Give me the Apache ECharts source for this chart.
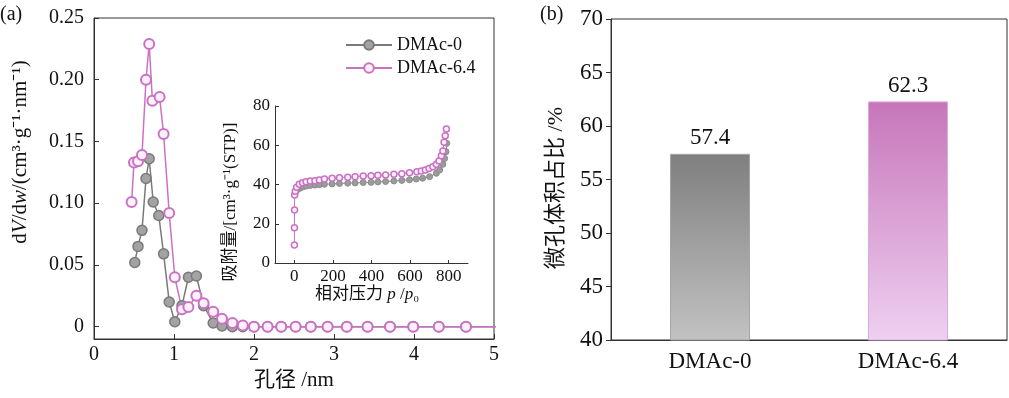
<!DOCTYPE html>
<html>
<head>
<meta charset="utf-8">
<script src="https://cdn.jsdelivr.net/npm/echarts@6/dist/echarts.min.js"></script>
<style>
    html, body { margin: 0; padding: 0; background: #fff; }
    #chart { width: 1009px; height: 398px; }
</style>
</head>
<body>
<div id="chart"></div>
<script>
    // 孔径分布 (a)
    var poreX0 = [0.51, 0.55, 0.60, 0.65, 0.69, 0.74, 0.81, 0.87, 0.94, 1.01, 1.10, 1.18, 1.28, 1.37, 1.49, 1.60, 1.73, 1.86, 2.00, 2.17, 2.34, 2.52, 2.71, 2.92, 3.16, 3.42, 3.70, 3.99, 4.31, 4.65, 5.02];
    var poreY0 = [0.052, 0.065, 0.078, 0.120, 0.136, 0.101, 0.090, 0.059, 0.020, 0.004, 0.017, 0.040, 0.041, 0.017, 0.003, 0.0005, 0, 0, 0, 0, 0, 0, 0, 0, 0, 0, 0, 0, 0, 0, 0];
    var poreX64 = [0.47, 0.50, 0.55, 0.60, 0.65, 0.69, 0.73, 0.82, 0.87, 0.94, 1.01, 1.10, 1.18, 1.28, 1.37, 1.49, 1.60, 1.73, 1.86, 2.00, 2.17, 2.34, 2.52, 2.71, 2.92, 3.16, 3.42, 3.70, 3.99, 4.31, 4.65, 5.02];
    var poreY64 = [0.101, 0.133, 0.134, 0.139, 0.200, 0.229, 0.183, 0.186, 0.156, 0.092, 0.040, 0.014, 0.016, 0.025, 0.019, 0.012, 0.0065, 0.003, 0.001, 0, 0, 0, 0, 0, 0, 0, 0, 0, 0, 0, 0, 0];

    // 吸附等温线 (插图)
    var isoX0 = [2, 8, 18, 30, 45, 62, 83, 107, 130, 156, 196, 234, 277, 315, 357, 398, 433, 473, 516, 557, 597, 632, 665, 701, 736, 753, 770, 779, 786, 790];
    var isoY0 = [35, 36.5, 37.5, 38.2, 38.8, 39.2, 39.5, 39.7, 39.9, 40.1, 40.3, 40.5, 40.7, 40.8, 41, 41.1, 41.3, 41.5, 41.8, 42.1, 42.4, 42.8, 43.2, 44, 45.7, 47.4, 50.3, 53.3, 56.7, 61];
    var isoX64 = [0.5, 0.8, 1.2, 2, 5, 12, 26, 43, 61, 83, 107, 130, 156, 196, 234, 277, 315, 357, 398, 433, 473, 516, 557, 597, 635, 658, 679, 698, 718, 736, 750, 762, 770, 776, 782, 788];
    var isoY64 = [9.2, 18, 27, 34.7, 36.5, 38.6, 40.1, 40.9, 41.4, 41.8, 41.9, 42.3, 42.8, 43.2, 43.5, 43.7, 44, 44.3, 44.5, 44.7, 44.8, 45.2, 45.5, 46, 46.5, 46.9, 47.4, 48.2, 49.1, 50.3, 52, 54.7, 57.1, 61.5, 64.9, 68.3];

    // 微孔体积占比 (b)
    var samples = ["DMAc-0", "DMAc-6.4"];
    var microRatio = [57.4, 62.3];

    var poreTicks = [0, 0.05, 0.10, 0.15, 0.20, 0.25];
    var isoTicks = [0, 200, 400, 600, 800];

    var FONT = "'Liberation Serif', 'Noto Sans CJK SC', serif";
    var AXIS = '#333';

    function pairs(xs, ys) {
        return xs.map(function (x, i) { return [x, ys[i]]; });
    }

    var option = {
        animation: false,
        textStyle: { fontFamily: FONT, color: '#111' },
        legend: {
            data: ['DMAc-0', 'DMAc-6.4'],
            orient: 'vertical',
            left: 340,
            top: 31,
            itemWidth: 46,
            itemHeight: 12,
            itemGap: 5,
            textStyle: { fontFamily: FONT, fontSize: 18, color: '#111' }
        },
        grid: [
            { left: 94, top: 18, width: 400, height: 321, show: true, borderColor: AXIS, borderWidth: 1 },
            { left: 275, top: 106, width: 193, height: 157 },
            { left: 611, top: 19, width: 396, height: 321, show: true, borderColor: AXIS, borderWidth: 1 }
        ],
        xAxis: [
            {
                gridIndex: 0, type: 'value', min: 0, max: 5, interval: 1,
                name: '孔径 /nm', nameLocation: 'middle', nameGap: 30,
                nameTextStyle: { fontFamily: FONT, fontSize: 21, color: '#111' },
                axisLine: { onZero: false, lineStyle: { color: AXIS } },
                axisTick: { inside: true, length: 5, lineStyle: { color: AXIS } },
                axisLabel: { fontSize: 20, color: '#111', margin: 6 },
                splitLine: { show: false }
            },
            {
                gridIndex: 1, type: 'value', min: -100, max: 900,
                axisLine: { onZero: false, lineStyle: { color: AXIS } },
                axisTick: { inside: true, length: 3, customValues: isoTicks, lineStyle: { color: AXIS } },
                axisLabel: { fontSize: 17, color: '#111', margin: 5, customValues: isoTicks },
                splitLine: { show: false }
            },
            {
                gridIndex: 2, type: 'category', data: samples,
                axisLine: { lineStyle: { color: AXIS } },
                axisTick: { show: false },
                axisLabel: { fontSize: 23, color: '#111', margin: 10 }
            }
        ],
        yAxis: [
            {
                gridIndex: 0, type: 'value', min: -0.01, max: 0.25,
                axisLine: { show: true, onZero: false, lineStyle: { color: AXIS } },
                axisTick: { show: true, inside: true, length: 5, customValues: poreTicks, lineStyle: { color: AXIS } },
                axisLabel: {
                    fontSize: 20, color: '#111', margin: 10, customValues: poreTicks,
                    formatter: function (v) { return v === 0 ? '0' : v.toFixed(2); }
                },
                splitLine: { show: false }
            },
            {
                gridIndex: 1, type: 'value', min: 0, max: 80, interval: 20,
                axisLine: { show: true, onZero: false, lineStyle: { color: AXIS } },
                axisTick: { show: true, inside: true, length: 4, lineStyle: { color: AXIS } },
                axisLabel: { fontSize: 17, color: '#111', margin: 5 },
                splitLine: { show: false }
            },
            {
                gridIndex: 2, type: 'value', min: 40, max: 70, interval: 5,
                axisLine: { show: true, onZero: false, lineStyle: { color: AXIS } },
                axisTick: { show: true, length: 5, lineStyle: { color: AXIS } },
                axisLabel: { fontSize: 23, color: '#111', margin: 8 },
                splitLine: { show: false }
            }
        ],
        graphic: [
            { type: 'text', left: 0, top: 5, style: { text: '(a)', fontFamily: FONT, fontSize: 20, fill: '#111' } },
            { type: 'text', left: 540, top: 5, style: { text: '(b)', fontFamily: FONT, fontSize: 20, fill: '#111' } },
            {
                type: 'text', x: 20, y: 152, rotation: Math.PI / 2,
                style: {
                    text: 'd{i|V}/d{i|w}/(cm³·g⁻¹·nm⁻¹)', fontFamily: FONT, fontSize: 21, fill: '#111',
                    align: 'center', verticalAlign: 'middle',
                    rich: { i: { fontFamily: FONT, fontSize: 21, fontStyle: 'italic', fill: '#111' } }
                }
            },
            {
                type: 'text', x: 231, y: 202, rotation: Math.PI / 2,
                style: {
                    text: '吸附量/[cm³·g⁻¹(STP)]', fontFamily: FONT, fontSize: 17, fill: '#111',
                    align: 'center', verticalAlign: 'middle'
                }
            },
            {
                type: 'text', x: 367, y: 295,
                style: {
                    text: '相对压力 {i|p} /{i|p}₀', fontFamily: FONT, fontSize: 17, fill: '#111',
                    align: 'center', verticalAlign: 'middle',
                    rich: { i: { fontFamily: FONT, fontSize: 17, fontStyle: 'italic', fill: '#111' } }
                }
            },
            {
                type: 'text', x: 556, y: 188, rotation: Math.PI / 2,
                style: {
                    text: '微孔体积占比 /%', fontFamily: FONT, fontSize: 22, fill: '#111',
                    align: 'center', verticalAlign: 'middle'
                }
            }
        ],
        series: [
            {
                name: 'DMAc-0', type: 'line', xAxisIndex: 0, yAxisIndex: 0,
                data: pairs(poreX0, poreY0),
                symbol: 'circle', symbolSize: 10,
                lineStyle: { color: '#7a7a7a', width: 1.5 },
                itemStyle: { color: '#a3a3a3', borderColor: '#7a7a7a', borderWidth: 1.5 }
            },
            {
                name: 'DMAc-6.4', type: 'line', xAxisIndex: 0, yAxisIndex: 0,
                data: pairs(poreX64, poreY64),
                symbol: 'circle', symbolSize: 10,
                lineStyle: { color: '#c972c4', width: 1.5 },
                itemStyle: { color: '#fcf0fb', borderColor: '#c972c4', borderWidth: 2 }
            },
            {
                name: 'iso0', type: 'line', xAxisIndex: 1, yAxisIndex: 1,
                data: pairs(isoX0, isoY0),
                symbol: 'circle', symbolSize: 6,
                lineStyle: { color: '#8a8a8a', width: 1 },
                itemStyle: { color: '#9c9c9c', borderColor: '#8a8a8a', borderWidth: 1 }
            },
            {
                name: 'iso64', type: 'line', xAxisIndex: 1, yAxisIndex: 1,
                data: pairs(isoX64, isoY64),
                symbol: 'circle', symbolSize: 6,
                lineStyle: { color: '#c972c4', width: 1 },
                itemStyle: { color: '#fcf0fb', borderColor: '#c972c4', borderWidth: 1.5 }
            },
            {
                name: 'ratio', type: 'bar', xAxisIndex: 2, yAxisIndex: 2,
                barWidth: 80,
                label: {
                    show: true, position: 'top', distance: 4,
                    fontFamily: FONT, fontSize: 23, color: '#111'
                },
                data: microRatio.map(function (v, i) {
                    var top = i === 0 ? '#7f7f7f' : '#c676b9';
                    var bottom = i === 0 ? '#c2c2c2' : '#eed0f1';
                    return {
                        value: v,
                        itemStyle: {
                            borderColor: i === 0 ? '#a5a5a5' : '#dcaadc',
                            borderWidth: 1,
                            color: new echarts.graphic.LinearGradient(0, 0, 0, 1, [
                                { offset: 0, color: top },
                                { offset: 1, color: bottom }
                            ])
                        }
                    };
                })
            }
        ]
    };

    var chartObj = echarts.init(document.getElementById('chart'));
    chartObj.setOption(option);
</script>
</body>
</html>
